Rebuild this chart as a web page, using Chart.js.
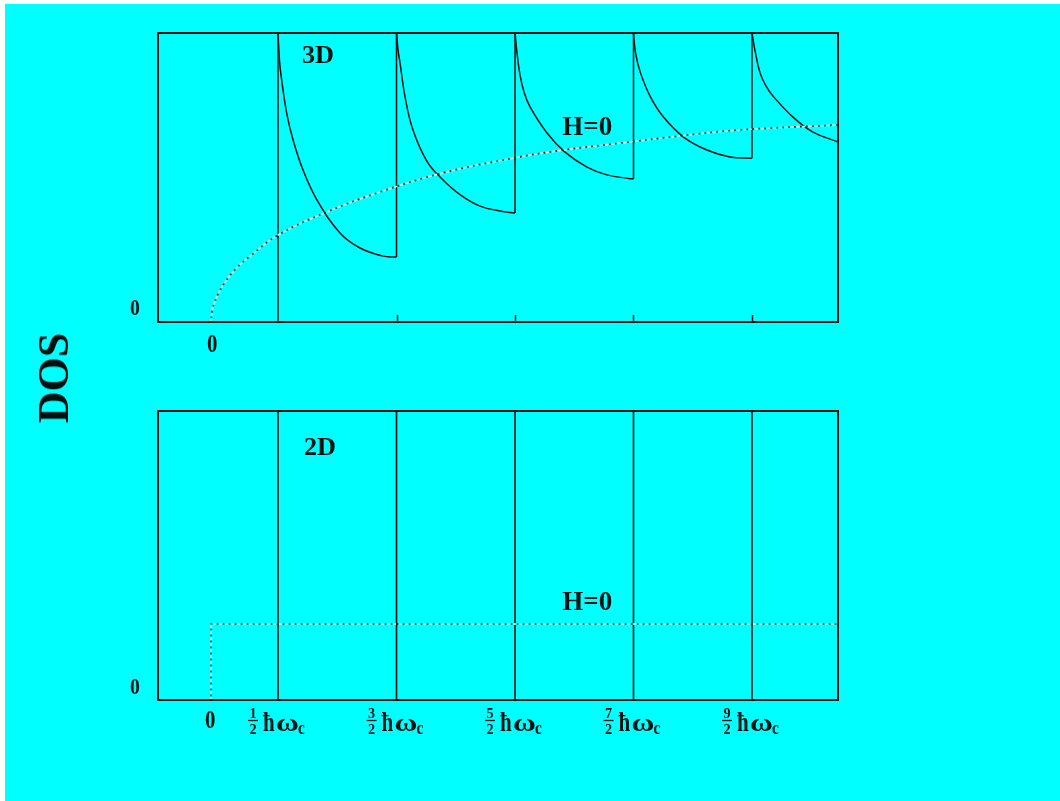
<!DOCTYPE html>
<html>
<head>
<meta charset="utf-8">
<script src="https://cdn.jsdelivr.net/npm/chart.js@4/dist/chart.umd.min.js"></script>
<style>
  html, body { margin: 0; padding: 0; background: #ffffff; }
  body { width: 1060px; height: 801px; position: relative; overflow: hidden; }
  #bg { position: absolute; left: 5px; top: 4px; width: 1055px; height: 797px; background: #00ffff; }
  canvas { position: absolute; left: 0; }
  #top { top: 0; }
  #bottom { top: 400px; }
  #dos { position: absolute; left: 54px; top: 378px; width: 0; height: 0; }
  #dos span {
    position: absolute; left: 0; top: 0; display: block;
    font: bold 44px "Liberation Serif", "DejaVu Serif", serif; color: #050f0f;
    line-height: 44px; white-space: nowrap;
    transform: translate(-50%, -50%) rotate(-90deg);
  }
</style>
</head>
<body>
<div id="bg"></div>
<canvas id="top" width="1060" height="400"></canvas>
<canvas id="bottom" width="1060" height="401"></canvas>
<div id="dos"><span>DOS</span></div>
<script>
// Energy axis in units of ħω_c, DOS axis normalised to the frame height
const xMin = -0.513, xMax = 5.226;
const levelE = [0.5, 1.5, 2.5, 3.5, 4.5];          // Landau levels (n + 1/2) ħω_c
const levelNum = ['1', '3', '5', '7', '9'];         // numerators of the tick fractions
const bandEdge = -0.065;                            // band bottom, E = 0

// 3D, B ≠ 0: one 1/sqrt branch above each Landau level
const sub0E = [0.5, 0.513, 0.531, 0.573, 0.627, 0.711, 0.829, 1.023, 1.192, 1.386, 1.5];
const sub0D = [1.0, 0.900, 0.837, 0.723, 0.630, 0.526, 0.422, 0.308, 0.256, 0.228, 0.225];
const sub1E = [1.5, 1.513, 1.530, 1.572, 1.639, 1.757, 1.884, 2.036, 2.205, 2.373, 2.5];
const sub1D = [1.0, 0.941, 0.896, 0.779, 0.664, 0.556, 0.495, 0.441, 0.401, 0.384, 0.377];
const sub2E = [2.5, 2.517, 2.542, 2.576, 2.627, 2.770, 2.922, 3.108, 3.276, 3.470, 3.5];
const sub2D = [1.0, 0.931, 0.855, 0.796, 0.744, 0.654, 0.588, 0.536, 0.509, 0.496, 0.495];
const sub3E = [3.5, 3.517, 3.559, 3.643, 3.753, 3.922, 4.120, 4.314, 4.5];
const sub3D = [1.0, 0.931, 0.862, 0.779, 0.709, 0.640, 0.595, 0.571, 0.567];
const sub4E = [4.5, 4.525, 4.568, 4.619, 4.677, 4.846, 5.015, 5.226];
const sub4D = [1.0, 0.941, 0.862, 0.816, 0.782, 0.709, 0.657, 0.623];

// 3D, H = 0: free-electron sqrt(E) density of states
const free3dE = [-0.065, -0.055, -0.035, -0.006, 0.053, 0.150, 0.264, 0.5, 0.913, 1.361, 1.892, 2.483, 2.905, 3.386, 3.892, 4.373, 5.226];
const free3dD = [0, 0.042, 0.069, 0.097, 0.138, 0.187, 0.228, 0.301, 0.381, 0.450, 0.516, 0.567, 0.595, 0.619, 0.644, 0.664, 0.682];

// 2D, H = 0: constant density of states above the band edge
const free2dE = [bandEdge, bandEdge, xMax];
const free2dD = [0, 0.263, 0.263];

const INK = '#061414';
const SERIF = '"Liberation Serif", "DejaVu Serif", serif';

function pts(xs, ys) { return xs.map((x, i) => ({ x: x, y: ys[i] })); }

function text(ctx, s, x, y, size, align, sx) {
  ctx.save();
  ctx.font = 'bold ' + size + 'px ' + SERIF;
  ctx.fillStyle = INK;
  ctx.textAlign = align || 'center';
  ctx.textBaseline = 'alphabetic';
  ctx.translate(x, y);
  ctx.scale(sx || 1, 1);
  ctx.fillText(s, 0, 0);
  ctx.restore();
}

function curve(data, extra) {
  return Object.assign({
    data: data, showLine: true, pointRadius: 0, borderColor: INK,
    borderWidth: 1.5, fill: false, tension: 0
  }, extra || {});
}

// White dots alternating with dark dots: the H = 0 reference curves
function dotted(data, tension) {
  return [
    curve(data, { borderColor: '#f6ffff', borderWidth: 1.7, borderDash: [3, 3], tension: tension }),
    curve(data, { borderColor: '#0a2424', borderWidth: 1.7, borderDash: [1.6, 4.4], borderDashOffset: -3.7, tension: tension })
  ];
}

// Vertical lines at the Landau levels, separated by gaps
function levelLines(bottoms) {
  const out = [];
  levelE.forEach((e, i) => {
    out.push({ x: e, y: bottoms[i] }, { x: e, y: 1 }, { x: e, y: null });
  });
  return out;
}

function frame(ctx, a) {
  ctx.save();
  ctx.strokeStyle = INK;
  ctx.lineWidth = 2;
  ctx.strokeRect(a.left, a.top, a.right - a.left, a.bottom - a.top);
  ctx.restore();
}

const baseOptions = (pad) => ({
  responsive: false, animation: false, devicePixelRatio: 1,
  layout: { padding: pad },
  plugins: { legend: { display: false }, tooltip: { enabled: false } },
  scales: {
    x: { type: 'linear', min: xMin, max: xMax, display: false },
    y: { type: 'linear', min: 0, max: 1, display: false }
  },
  elements: { point: { radius: 0 } }
});

// ---------- 3D panel ----------
const subE = [sub0E, sub1E, sub2E, sub3E, sub4E];
const subD = [sub0D, sub1D, sub2D, sub3D, sub4D];
const jumpBottoms = [0].concat(subD.slice(0, 4).map(d => d[d.length - 1]));

const topDecor = {
  id: 'topDecor',
  afterDatasetsDraw(chart) {
    const ctx = chart.ctx, a = chart.chartArea;
    const xs = chart.scales.x, ys = chart.scales.y;
    frame(ctx, a);
    // short ticks along the energy axis
    ctx.save();
    ctx.strokeStyle = INK; ctx.lineWidth = 1.5;
    levelE.slice(1).forEach(e => {
      const px = Math.round(xs.getPixelForValue(e)) + 0.5;
      ctx.beginPath(); ctx.moveTo(px, a.bottom); ctx.lineTo(px, a.bottom - 7); ctx.stroke();
    });
    ctx.restore();
    const y0 = ys.getPixelForValue(0);
    text(ctx, '0', a.left - 23, y0 - 7, 24, 'center', 0.82);
    text(ctx, '0', xs.getPixelForValue(bandEdge) + 1, y0 + 30, 26, 'center', 0.8);
    text(ctx, '3D', xs.getPixelForValue(levelE[0]) + 40, a.top + 30, 25, 'center', 1.05);
    text(ctx, 'H=0', xs.getPixelForValue(3.11), a.top + 102, 27, 'center', 1.0);
  }
};

const topSets = [];
dotted(pts(free3dE, free3dD), 0.4).forEach(d => topSets.push(d));
topSets.push(curve(levelLines(jumpBottoms), { spanGaps: false }));
subE.forEach((e, i) => topSets.push(curve(pts(e, subD[i]), { tension: 0.4 })));

new Chart(document.getElementById('top'), {
  type: 'scatter',
  data: { datasets: topSets },
  options: baseOptions({ left: 158, right: 222, top: 33, bottom: 78 }),
  plugins: [topDecor]
});

// ---------- 2D panel ----------
const bottomDecor = {
  id: 'bottomDecor',
  afterDatasetsDraw(chart) {
    const ctx = chart.ctx, a = chart.chartArea;
    const xs = chart.scales.x, ys = chart.scales.y;
    frame(ctx, a);
    const y0 = ys.getPixelForValue(0);
    text(ctx, '0', a.left - 23, y0 - 6, 24, 'center', 0.82);
    text(ctx, '0', xs.getPixelForValue(bandEdge) - 1, y0 + 28, 26, 'center', 0.8);
    text(ctx, '2D', xs.getPixelForValue(levelE[0]) + 42, a.top + 44, 25, 'center', 1.05);
    text(ctx, 'H=0', xs.getPixelForValue(3.11), ys.getPixelForValue(free2dD[1]) - 14, 27, 'center', 1.0);
    // tick labels: (n/2) ħω_c
    levelE.forEach((e, i) => {
      const t = xs.getPixelForValue(e);
      const fx = t - 25;
      text(ctx, levelNum[i], fx, y0 + 18, 15, 'center', 0.95);
      ctx.save();
      ctx.strokeStyle = INK; ctx.lineWidth = 1.3;
      ctx.beginPath(); ctx.moveTo(fx - 5, y0 + 20.5); ctx.lineTo(fx + 5, y0 + 20.5); ctx.stroke();
      ctx.restore();
      text(ctx, '2', fx, y0 + 34, 15, 'center', 0.95);
      text(ctx, 'ħ', t - 15, y0 + 31, 28, 'left', 0.75);
      text(ctx, 'ω', t - 2, y0 + 31, 25, 'left', 1.25);
      text(ctx, 'c', t + 20, y0 + 34, 18, 'left', 0.85);
    });
  }
};

const bottomSets = [];
dotted(pts(free2dE, free2dD), 0).forEach(d => bottomSets.push(d));
bottomSets.push(curve(levelLines(levelE.map(() => 0)), { spanGaps: false, borderWidth: 1.6 }));

new Chart(document.getElementById('bottom'), {
  type: 'scatter',
  data: { datasets: bottomSets },
  options: baseOptions({ left: 158, right: 222, top: 11, bottom: 101 }),
  plugins: [bottomDecor]
});
</script>
</body>
</html>
